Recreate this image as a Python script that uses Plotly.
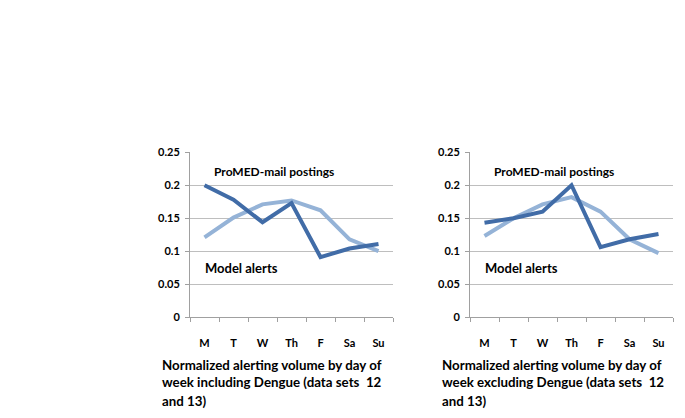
import plotly.graph_objects as go

days = ["M", "T", "W", "Th", "F", "Sa", "Su"]
left_dark = [0.200, 0.178, 0.144, 0.173, 0.091, 0.104, 0.111]
left_light = [0.121, 0.151, 0.171, 0.177, 0.162, 0.118, 0.100]
right_dark = [0.143, 0.150, 0.160, 0.200, 0.106, 0.118, 0.126]
right_light = [0.123, 0.150, 0.171, 0.182, 0.160, 0.118, 0.097]
y_ticks = [0, 0.05, 0.1, 0.15, 0.2, 0.25]
y_tick_text = ["0", "0.05", "0.1", "0.15", "0.2", "0.25"]
captions = [
    ["Normalized alerting volume by day of", "week including Dengue (data sets  12", "and 13)"],
    ["Normalized alerting volume by day of", "week excluding Dengue (data sets  12", "and 13)"],
]

W, H = 685, 418
DARK = "#416CA7"
LIGHT = "#95B3D7"
FONT = "Lato, Carlito, Liberation Sans"

fig = go.Figure()
for i, (d, l) in enumerate([(left_dark, left_light), (right_dark, right_light)]):
    xa = "x" if i == 0 else "x2"
    ya = "y" if i == 0 else "y2"
    fig.add_trace(go.Scatter(x=days, y=l, mode="lines", line=dict(color=LIGHT, width=4),
                             xaxis=xa, yaxis=ya, showlegend=False, name="ProMED-mail postings"))
    fig.add_trace(go.Scatter(x=days, y=d, mode="lines", line=dict(color=DARK, width=4),
                             xaxis=xa, yaxis=ya, showlegend=False, name="Model alerts"))

x_domains = [[190 / W, 393 / W], [470 / W, 673 / W]]
y_domain = [1 - 320 / H, 1 - 150 / H]

axis_common = dict(showline=True, linecolor="#A0A0A0", linewidth=1,
                   ticks="outside", ticklen=4, tickcolor="#A0A0A0",
                   tickfont=dict(family=FONT, size=11, color="#000000"))

layout = dict(width=W, height=H, margin=dict(l=0, r=0, t=0, b=0),
              paper_bgcolor="white", plot_bgcolor="white")
for i in range(2):
    suf = "" if i == 0 else "2"
    layout["xaxis" + suf] = dict(domain=x_domains[i], type="category", categoryorder="array",
                                 categoryarray=days, range=[-0.5, 6.5], tickson="boundaries",
                                 tickvals=days, ticktext=["<b>" + t + "</b>" for t in days],
                                 ticklabelstandoff=16,
                                 showgrid=False, anchor="y" + suf, fixedrange=True,
                                 **axis_common)
    layout["yaxis" + suf] = dict(domain=y_domain, range=[0, 0.25], tickvals=y_ticks,
                                 ticktext=["<b>" + t + "</b>" for t in y_tick_text],
                                 ticklabelstandoff=3,
                                 showgrid=True, gridcolor="#BEBEBE",
                                 gridwidth=1, zeroline=False, anchor="x" + suf,
                                 fixedrange=True, **axis_common)
fig.update_layout(**layout)

annotations = []
line_centers = [369, 387.5, 406.5]
for i, x0 in enumerate([190, 470]):
    annotations.append(dict(x=(x0 + 22) / W, y=1 - 170 / H, xref="paper", yref="paper",
                            text="<b>ProMED-mail postings</b>", showarrow=False,
                            xanchor="left", yanchor="middle",
                            font=dict(family=FONT, size=12, color="#000000")))
    annotations.append(dict(x=(x0 + 13) / W, y=1 - 269 / H, xref="paper", yref="paper",
                            text="<b>Model alerts</b>", showarrow=False,
                            xanchor="left", yanchor="middle",
                            font=dict(family=FONT, size=13, color="#000000")))
    for line, yc in zip(captions[i], line_centers):
        annotations.append(dict(x=(x0 - 30) / W, y=1 - yc / H, xref="paper", yref="paper",
                                text="<b>" + line + "</b>", showarrow=False,
                                xanchor="left", yanchor="middle", align="left",
                                font=dict(family=FONT, size=13.3, color="#000000")))
fig.update_layout(annotations=annotations)

fig.write_html("out.html", config={"displayModeBar": False},
               post_script="document.body.style.margin='0';")
